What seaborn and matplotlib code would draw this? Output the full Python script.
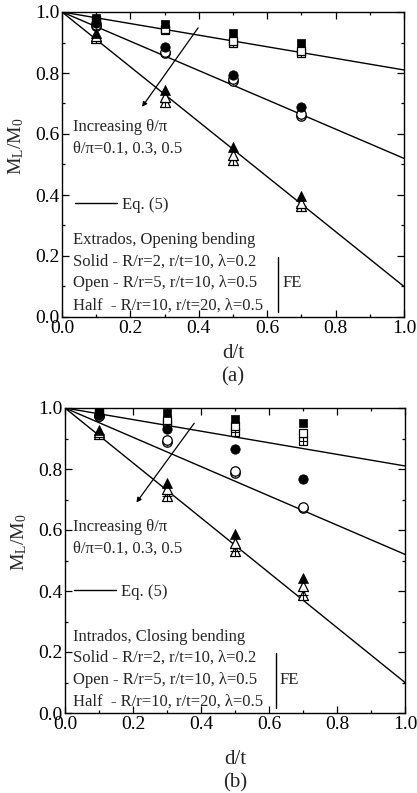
import matplotlib
matplotlib.use("Agg")
import numpy as np
import pandas as pd
import matplotlib.pyplot as plt
import seaborn as sns
from matplotlib.ticker import MultipleLocator

# ---------------- data ----------------
d_t = [0.1, 0.3, 0.5, 0.7]

# Eq. (5) lines (end values at d/t = 0 and 1) for theta/pi = 0.1, 0.3, 0.5
eq_dt = [0.0, 1.0]
eq_theta01 = [1.0, 0.81]
eq_theta03 = [1.0, 0.52]
eq_theta05 = [1.0, 0.10]

# Panel (a): Extrados, opening bending
a_sq_solid = [0.980, 0.960, 0.930, 0.897]
a_sq_open = [0.975, 0.945, 0.905, 0.872]
a_sq_half = [0.970, 0.940, 0.898, 0.865]
a_ci_solid = [0.965, 0.885, 0.795, 0.690]
a_ci_open = [0.958, 0.870, 0.780, 0.667]
a_ci_half = [0.955, 0.865, 0.775, 0.660]
a_tr_solid = [0.930, 0.745, 0.558, 0.398]
a_tr_open = [0.920, 0.720, 0.532, 0.375]
a_tr_half = [0.915, 0.705, 0.515, 0.365]

# Panel (b): Intrados, closing bending
b_sq_solid = [0.990, 0.985, 0.965, 0.950]
b_sq_open = [0.985, 0.960, 0.940, 0.918]
b_sq_half = [0.985, 0.950, 0.920, 0.893]
b_ci_solid = [0.978, 0.932, 0.867, 0.768]
b_ci_open = [0.975, 0.895, 0.792, 0.674]
b_ci_half = [0.975, 0.890, 0.788, 0.671]
b_tr_solid = [0.927, 0.754, 0.586, 0.444]
b_tr_open = [0.920, 0.733, 0.558, 0.418]
b_tr_half = [0.915, 0.710, 0.530, 0.388]

theta_labels = ["0.1", "0.3", "0.5"]
model_labels = ["Solid", "Open", "Half"]
fe_lines = ["Solid - R/r=2, r/t=10, λ=0.2",
            "Open - R/r=5, r/t=10, λ=0.5",
            "Half  - R/r=10, r/t=20, λ=0.5"]

# ---------------- style ----------------
sns.set_theme(style="ticks")
plt.rcParams["font.family"] = ["Liberation Serif", "DejaVu Serif"]
plt.rcParams["mathtext.fontset"] = "custom"
plt.rcParams["mathtext.rm"] = "Liberation Serif"
plt.rcParams["mathtext.it"] = "Liberation Serif:italic"

TXT = 12

fig = plt.figure(figsize=(4.17, 7.93), dpi=100)
ax_a = fig.add_axes([62 / 417, 1 - 317 / 793, 342 / 417, 305 / 793])
ax_b = fig.add_axes([65 / 417, 1 - 713 / 793, 340 / 417, 305 / 793])


def build_frame(sq, ci, tr):
    rows = []
    for shape, series in zip(theta_labels, [sq, ci, tr]):
        for model, vals in zip(model_labels, series):
            for x, y in zip(d_t, vals):
                rows.append({"dt": x, "ML": y, "theta": shape, "model": model})
    return pd.DataFrame(rows)


eq_df = pd.DataFrame({
    "dt": eq_dt * 3,
    "ML": eq_theta01 + eq_theta03 + eq_theta05,
    "theta": ["0.1"] * 2 + ["0.3"] * 2 + ["0.5"] * 2,
})

markers = {"0.1": "s", "0.3": "o", "0.5": "^"}
sizes = {"0.1": 38, "0.3": 46, "0.5": 52}


def draw_panel(ax, df, title_line, arrow_start, arrow_end, inc_y, eq_y,
               txt_x, head_y, fe_x, tag, xlab_y, tag_y, eq_leg_x):
    # Eq. (5) lines
    for i, th in enumerate(theta_labels):
        sub = eq_df[eq_df["theta"] == th]
        sns.lineplot(data=sub, x="dt", y="ML", ax=ax, color="black", lw=1.0,
                     label="Eq. (5)" if i == 0 else None, legend=False)
    # FE points: half first, then open, then solid on top
    for th in theta_labels:
        m = markers[th]
        s = sizes[th]
        half = df[(df["theta"] == th) & (df["model"] == "Half")]
        sns.scatterplot(data=half, x="dt", y="ML", ax=ax, marker=m, s=s,
                        facecolor="white", edgecolor="black", linewidth=0.9,
                        legend=False, zorder=3)
        sns.scatterplot(data=half, x="dt", y="ML", ax=ax, marker="+", s=s * 0.9,
                        color="black", linewidth=0.8, legend=False, zorder=3)
        opn = df[(df["theta"] == th) & (df["model"] == "Open")]
        sns.scatterplot(data=opn, x="dt", y="ML", ax=ax, marker=m, s=s,
                        facecolor="white", edgecolor="black", linewidth=0.9,
                        legend=False, zorder=4)
        sol = df[(df["theta"] == th) & (df["model"] == "Solid")]
        sns.scatterplot(data=sol, x="dt", y="ML", ax=ax, marker=m, s=s,
                        color="black", edgecolor="black", linewidth=0.5,
                        legend=False, zorder=5)

    ax.set_xlim(0, 1)
    ax.set_ylim(0, 1)
    ax.xaxis.set_major_locator(MultipleLocator(0.2))
    ax.xaxis.set_minor_locator(MultipleLocator(0.1))
    ax.yaxis.set_major_locator(MultipleLocator(0.2))
    ax.yaxis.set_minor_locator(MultipleLocator(0.1))
    ax.xaxis.set_major_formatter(matplotlib.ticker.FormatStrFormatter("%.1f"))
    ax.yaxis.set_major_formatter(matplotlib.ticker.FormatStrFormatter("%.1f"))
    ax.tick_params(which="both", direction="in", top=True, right=True,
                   labelsize=14, colors="black", width=0.9)
    ax.tick_params(which="major", length=5, pad=2)
    ax.tick_params(which="minor", length=2.5)
    for sp in ax.spines.values():
        sp.set_linewidth(1.0)
        sp.set_color("black")
        sp.set_visible(True)
    ax.set_facecolor("white")

    ax.set_xlabel("d/t", fontsize=15)
    ax.xaxis.set_label_coords(0.5, xlab_y)
    ax.xaxis.label.set_va("center")
    ax.set_ylabel(r"$\mathregular{M_L/M_0}$", fontsize=14)
    ax.yaxis.set_label_coords(-0.135, 0.56)
    ax.yaxis.label.set_va("center")
    ax.text(0.5, tag_y, tag, transform=ax.transAxes, ha="center", va="center",
            fontsize=15)

    # arrow
    ax.annotate("", xy=arrow_end, xytext=arrow_start,
                arrowprops=dict(arrowstyle="-|>", color="black", lw=0.9,
                                mutation_scale=7, shrinkA=0, shrinkB=0))
    ax.text(txt_x, inc_y, "Increasing θ/π", fontsize=TXT, ha="left", va="center")
    ax.text(txt_x, inc_y - 0.07, "θ/π=0.1, 0.3, 0.5", fontsize=TXT,
            ha="left", va="center")

    # legend for Eq. (5)
    ax.legend(loc="center left", bbox_to_anchor=(eq_leg_x, eq_y), frameon=False,
              fontsize=TXT, handlelength=2.5, handletextpad=0.3,
              borderpad=0, borderaxespad=0)

    ax.text(txt_x, head_y, title_line, fontsize=TXT, ha="left", va="center")
    ys = [head_y - 0.07, head_y - 0.142, head_y - 0.214]
    for y, s in zip(ys, fe_lines):
        ax.text(txt_x, y, s, fontsize=TXT, ha="left", va="center")
    ax.plot([fe_x, fe_x], [0.016, 0.198], color="black", lw=1.0)
    ax.text(fe_x + 0.012, ys[1], "FE", fontsize=TXT, ha="left", va="center")


df_a = build_frame([a_sq_solid, a_sq_open, a_sq_half],
                   [a_ci_solid, a_ci_open, a_ci_half],
                   [a_tr_solid, a_tr_open, a_tr_half])
df_b = build_frame([b_sq_solid, b_sq_open, b_sq_half],
                   [b_ci_solid, b_ci_open, b_ci_half],
                   [b_tr_solid, b_tr_open, b_tr_half])

draw_panel(ax_a, df_a, "Extrados, Opening bending",
           arrow_start=(0.398, 0.948), arrow_end=(0.234, 0.689),
           inc_y=0.623, eq_y=0.367, txt_x=0.032, head_y=0.252, fe_x=0.632,
           tag="(a)", xlab_y=-0.12, tag_y=-0.197, eq_leg_x=0.038)
draw_panel(ax_b, df_b, "Intrados, Closing bending",
           arrow_start=(0.38, 0.95), arrow_end=(0.21, 0.69),
           inc_y=0.61, eq_y=0.397, txt_x=0.024, head_y=0.25, fe_x=0.62,
           tag="(b)", xlab_y=-0.151, tag_y=-0.23, eq_leg_x=0.026)

fig.savefig("out.png", dpi=100, facecolor="white")
